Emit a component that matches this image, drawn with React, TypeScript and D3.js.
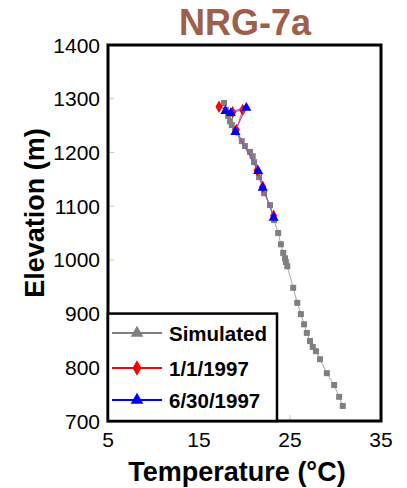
import React, { useEffect, useRef } from 'react';
import * as d3 from 'd3';

// Simulated profile (temperature °C, elevation m)
const simTemp = [17.75, 17.95, 18.2, 18.4, 18.6, 18.95, 19.7, 20.05, 20.6, 20.9, 21.05, 21.6, 22.15, 22.8, 23.25, 23.7, 24.0, 24.25, 24.45, 24.55, 24.7, 25.35, 25.8, 26.2, 26.55, 26.85, 27.2, 27.5, 27.85, 28.3, 29.05, 29.85, 30.4, 30.8];
const simElev = [1292, 1279, 1268, 1258, 1251, 1242, 1221, 1212, 1201, 1193, 1182, 1154, 1124, 1102, 1074, 1050, 1029, 1013, 1003, 996, 988, 948, 920, 899, 880, 864, 849, 838, 830, 815, 789, 767, 745, 728];

// Observed 1/1/1997
const janTemp = [17.2, 18.7, 19.8, 19.1, 21.4, 22.0, 23.2];
const janElev = [1285, 1275, 1279, 1242, 1167, 1136, 1082];

// Observed 6/30/1997
const junTemp = [17.9, 18.5, 20.2, 19.0, 21.5, 22.0, 23.2];
const junElev = [1279, 1275, 1285, 1240, 1167, 1136, 1080];

const xTicks = [5, 15, 25, 35];
const yTicks = [700, 800, 900, 1000, 1100, 1200, 1300, 1400];

const font = 'Liberation Sans, Arial, sans-serif';

const App = () => {
  const svgRef = useRef<SVGSVGElement>(null);

  useEffect(() => {
    const svg = d3.select(svgRef.current);
    svg.selectAll('*').remove();

    const x = d3.scaleLinear().domain([5, 35]).range([108, 381]);
    const y = d3.scaleLinear().domain([700, 1400]).range([421, 45]);

    // Title
    svg.append('text')
      .attr('x', 245).attr('y', 35)
      .attr('text-anchor', 'middle')
      .attr('font-family', font).attr('font-weight', 'bold')
      .attr('font-size', 36).attr('fill', '#9e604b')
      .text('NRG-7a');

    // Inner tick marks
    const g = svg.append('g');
    yTicks.slice(1, -1).forEach(t => {
      g.append('line')
        .attr('x1', x(5)).attr('x2', x(5) + 6)
        .attr('y1', y(t)).attr('y2', y(t))
        .attr('stroke', '#c8c8c8').attr('stroke-width', 1);
    });
    xTicks.slice(1, -1).forEach(t => {
      g.append('line')
        .attr('x1', x(t)).attr('x2', x(t))
        .attr('y1', y(700)).attr('y2', y(700) - 6)
        .attr('stroke', '#c8c8c8').attr('stroke-width', 1);
    });

    // Tick labels
    yTicks.forEach(t => {
      svg.append('text')
        .attr('x', 100).attr('y', y(t) + 7.5)
        .attr('text-anchor', 'end')
        .attr('font-family', font).attr('font-size', 21)
        .text(t);
    });
    xTicks.forEach(t => {
      svg.append('text')
        .attr('x', x(t)).attr('y', 447)
        .attr('text-anchor', 'middle')
        .attr('font-family', font).attr('font-size', 21)
        .text(t);
    });

    // Axis titles
    svg.append('text')
      .attr('x', 237).attr('y', 481)
      .attr('text-anchor', 'middle')
      .attr('font-family', font).attr('font-weight', 'bold').attr('font-size', 27)
      .text('Temperature (°C)');
    svg.append('text')
      .attr('transform', `translate(44,${(y(700) + y(1400)) / 2 - 20}) rotate(-90)`)
      .attr('text-anchor', 'middle')
      .attr('font-family', font).attr('font-weight', 'bold').attr('font-size', 27)
      .text('Elevation (m)');

    const line = d3.line<[number, number]>().x(d => x(d[0])).y(d => y(d[1]));
    const zip = (a: number[], b: number[]) => a.map((v, i) => [v, b[i]] as [number, number]);

    const sim = zip(simTemp, simElev);
    const jan = zip(janTemp, janElev);
    const jun = zip(junTemp, junElev);

    const sq = d3.symbol().type(d3.symbolSquare).size(36);
    const dia = d3.symbol().type(d3.symbolDiamond).size(45);
    const tri = d3.symbol().type(d3.symbolTriangle).size(45);

    // Simulated
    svg.append('path').attr('d', line(sim)).attr('fill', 'none')
      .attr('stroke', '#a8a8a8').attr('stroke-width', 1);
    svg.selectAll('.sim').data(sim).enter().append('path')
      .attr('d', sq())
      .attr('transform', d => `translate(${x(d[0])},${y(d[1])})`)
      .attr('fill', '#808080');

    // 1/1/1997
    svg.append('path').attr('d', line(jan)).attr('fill', 'none')
      .attr('stroke', '#ff4040').attr('stroke-width', 1);
    svg.selectAll('.jan').data(jan).enter().append('path')
      .attr('d', dia())
      .attr('transform', d => `translate(${x(d[0])},${y(d[1])})`)
      .attr('fill', '#ff0000');

    // 6/30/1997
    svg.append('path').attr('d', line(jun)).attr('fill', 'none')
      .attr('stroke', '#6060ff').attr('stroke-width', 1);
    svg.selectAll('.jun').data(jun).enter().append('path')
      .attr('d', tri())
      .attr('transform', d => `translate(${x(d[0])},${y(d[1]) + 1})`)
      .attr('fill', '#0000ff');

    // Frame
    svg.append('rect')
      .attr('x', x(5)).attr('y', y(1400))
      .attr('width', x(35) - x(5)).attr('height', y(700) - y(1400))
      .attr('fill', 'none').attr('stroke', '#000').attr('stroke-width', 3);

    // Legend
    const lg = svg.append('g');
    lg.append('rect')
      .attr('x', x(5)).attr('y', y(900))
      .attr('width', 169).attr('height', y(700) - y(900))
      .attr('fill', '#fff').attr('stroke', '#000').attr('stroke-width', 2.5);
    const items = [
      { label: 'Simulated', color: '#808080', sym: tri, yy: 333 },
      { label: '1/1/1997', color: '#ff0000', sym: dia, yy: 368 },
      { label: '6/30/1997', color: '#0000ff', sym: tri, yy: 400 },
    ];
    items.forEach(it => {
      lg.append('line')
        .attr('x1', 112).attr('x2', 162)
        .attr('y1', it.yy).attr('y2', it.yy)
        .attr('stroke', it.color).attr('stroke-width', 2);
      lg.append('path').attr('d', it.sym.size(70)())
        .attr('transform', `translate(137,${it.yy})`)
        .attr('fill', it.color);
      lg.append('text')
        .attr('x', 169).attr('y', it.yy + 7.5)
        .attr('font-family', font).attr('font-weight', 'bold').attr('font-size', 20.5)
        .text(it.label);
    });
  }, []);

  return (
    <svg ref={svgRef} width={407} height={488}
      style={{ position: 'absolute', left: 0, top: 0, background: '#fff' }} />
  );
};

export default App;
